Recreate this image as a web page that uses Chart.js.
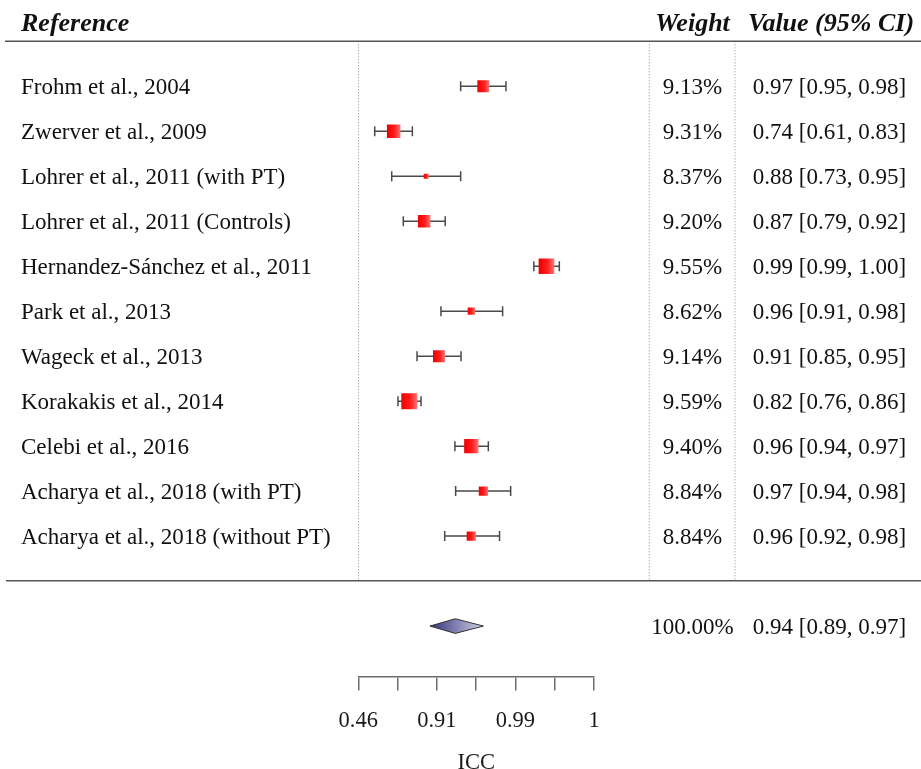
<!DOCTYPE html>
<html><head><meta charset="utf-8">
<script src="https://cdn.jsdelivr.net/npm/chart.js@4.4.0/dist/chart.umd.min.js"></script>
<style>html,body{margin:0;padding:0;background:#fff;overflow:hidden}canvas{display:block}</style>
</head><body>
<canvas id="c" width="921" height="769"></canvas>
<script>
// ---------- data ----------
const studies = [
  'Frohm et al., 2004',
  'Zwerver et al., 2009',
  'Lohrer et al., 2011 (with PT)',
  'Lohrer et al., 2011 (Controls)',
  'Hernandez-Sánchez et al., 2011',
  'Park et al., 2013',
  'Wageck et al., 2013',
  'Korakakis et al., 2014',
  'Celebi et al., 2016',
  'Acharya et al., 2018 (with PT)',
  'Acharya et al., 2018 (without PT)'
];
const icc      = [0.9699, 0.7398, 0.8774, 0.8713, 0.9939, 0.9594, 0.9099, 0.8175, 0.9594, 0.9700, 0.9594];
const iccLower = [0.9471, 0.6100, 0.7284, 0.7905, 0.9916, 0.9141, 0.8476, 0.7637, 0.9390, 0.9401, 0.9216];
const iccUpper = [0.9830, 0.8300, 0.9471, 0.9226, 0.9956, 0.9815, 0.9476, 0.8613, 0.9735, 0.9849, 0.9800];
const weights  = [9.13, 9.31, 8.37, 9.20, 9.55, 8.62, 9.14, 9.59, 9.40, 8.84, 8.84];
const pooledIcc = [0.9396];
const pooledLower = [0.8880];
const pooledUpper = [0.9700];
const pooledWeight = [100.00];
const tickLabels = ['0.46', '', '0.91', '', '0.99', '', '1'];
const axisTitle = 'ICC';
const headers = ['Reference', 'Weight', 'Value (95% CI)'];
// axis range on Fisher-z scale
const zMin = 0.5, zMax = 3.5, zStep = 0.5;

// ---------- style / layout constants ----------
const FONT = "'Liberation Serif','Times New Roman',Times,serif";
const ROW_FONT = 23, HEAD_FONT = 26;
const COL_WEIGHT_LINE = 649.3, COL_VALUE_LINE = 735;
const COL_WEIGHT_CENTER = 692.5, COL_VALUE_CENTER = 829.5, NAME_X = 21;
const POOLED_ROW = 12, RULE_BOTTOM = 10.99, HEADER_ROW = -1.42;
const SQ_MIN = 5, SQ_MAX = 16;
const DIAMOND_HALF = 0.163;

const z = v => Math.atanh(v);
const wMin = Math.min(...weights), wMax = Math.max(...weights);
const sideFor = w => SQ_MIN + (w - wMin) / (wMax - wMin) * (SQ_MAX - SQ_MIN);

const squareData = icc.map((v, i) => ({x: z(v), y: i}));
const whiskerData = [];
icc.forEach((v, i) => {
  whiskerData.push({x: z(iccLower[i]), y: i}, {x: z(iccUpper[i]), y: i}, {x: NaN, y: NaN});
});
const capData = [];
icc.forEach((v, i) => { capData.push({x: z(iccLower[i]), y: i}, {x: z(iccUpper[i]), y: i}); });
const diamondData = [
  {x: z(pooledLower[0]), y: POOLED_ROW},
  {x: z(pooledIcc[0]), y: POOLED_ROW - DIAMOND_HALF},
  {x: z(pooledUpper[0]), y: POOLED_ROW},
  {x: z(pooledIcc[0]), y: POOLED_ROW + DIAMOND_HALF},
  {x: z(pooledLower[0]), y: POOLED_ROW}
];

const fmt = v => v.toFixed(2);

const forestText = {
  id: 'forestText',
  beforeDatasetsDraw(chart) {
    const {ctx, scales: {x, y}, chartArea} = chart;
    ctx.save();
    const top = chartArea.top, bot = y.getPixelForValue(RULE_BOTTOM);
    ctx.strokeStyle = '#8c8c8c'; ctx.lineWidth = 1; ctx.setLineDash([1, 2]);
    [Math.round(x.getPixelForValue(zMin)) + 0.5, COL_WEIGHT_LINE, COL_VALUE_LINE].forEach(px => {
      ctx.beginPath(); ctx.moveTo(px, top); ctx.lineTo(px, bot); ctx.stroke();
    });
    ctx.setLineDash([]);
    ctx.strokeStyle = '#555'; ctx.lineWidth = 1.5;
    ctx.beginPath(); ctx.moveTo(5, top); ctx.lineTo(chart.width, top); ctx.stroke();
    ctx.beginPath(); ctx.moveTo(6, bot); ctx.lineTo(chart.width, bot); ctx.stroke();
    ctx.restore();
  },
  afterDatasetsDraw(chart) {
    const {ctx, scales: {y}} = chart;
    ctx.save();
    ctx.fillStyle = '#111';
    ctx.textBaseline = 'alphabetic';
    // header
    ctx.font = `italic bold ${HEAD_FONT}px ${FONT}`;
    const hy = y.getPixelForValue(HEADER_ROW) + HEAD_FONT * 0.335;
    ctx.textAlign = 'left'; ctx.fillText(headers[0], NAME_X, hy);
    ctx.textAlign = 'center';
    ctx.fillText(headers[1], COL_WEIGHT_CENTER, hy);
    ctx.fillText(headers[2], COL_VALUE_CENTER + 1.5, hy);
    // rows
    ctx.font = `${ROW_FONT}px ${FONT}`;
    const off = ROW_FONT * 0.331;
    studies.forEach((s, i) => {
      const py = y.getPixelForValue(i) + off;
      ctx.textAlign = 'left'; ctx.fillText(s, NAME_X, py);
      ctx.textAlign = 'center';
      ctx.fillText(weights[i].toFixed(2) + '%', COL_WEIGHT_CENTER, py);
      ctx.fillText(`${fmt(icc[i])} [${fmt(iccLower[i])}, ${fmt(iccUpper[i])}]`, COL_VALUE_CENTER, py);
    });
    const pp = y.getPixelForValue(POOLED_ROW) + off;
    ctx.textAlign = 'center';
    ctx.fillText(pooledWeight[0].toFixed(2) + '%', COL_WEIGHT_CENTER, pp);
    ctx.fillText(`${fmt(pooledIcc[0])} [${fmt(pooledLower[0])}, ${fmt(pooledUpper[0])}]`, COL_VALUE_CENTER, pp);
    ctx.restore();
  }
};

function squareGradient(c) {
  if (c.type !== 'data' || !c.chart.chartArea) return '#f00';
  const i = c.dataIndex;
  const px = c.chart.scales.x.getPixelForValue(z(icc[i]));
  const s = sideFor(weights[i]);
  const g = c.chart.ctx.createLinearGradient(px - s / 2, 0, px + s / 2, 0);
  g.addColorStop(0, '#ee0000');
  g.addColorStop(0.55, '#ff1c1c');
  g.addColorStop(1, '#ff7474');
  return g;
}
function diamondGradient(c) {
  if (!c.chart.chartArea) return '#6a6aa8';
  const xs = c.chart.scales.x;
  const g = c.chart.ctx.createLinearGradient(xs.getPixelForValue(z(pooledLower[0])), 0, xs.getPixelForValue(z(pooledUpper[0])), 0);
  g.addColorStop(0, '#35357a');
  g.addColorStop(1, '#d0d0e8');
  return g;
}

new Chart(document.getElementById('c'), {
  type: 'scatter',
  data: {
    datasets: [
      {
        label: 'squares', data: squareData, order: 0,
        pointStyle: 'rect',
        pointRadius: c => sideFor(weights[c.dataIndex]) / Math.SQRT2,
        pointHoverRadius: c => sideFor(weights[c.dataIndex]) / Math.SQRT2,
        backgroundColor: squareGradient, borderWidth: 0, borderColor: 'rgba(0,0,0,0)'
      },
      {
        label: 'caps', data: capData, order: 1,
        pointStyle: 'line', rotation: 90, pointRadius: 5,
        borderColor: '#4a4a4a', pointBorderColor: '#4a4a4a', pointBorderWidth: 1.5
      },
      {
        label: 'whiskers', data: whiskerData, order: 2,
        showLine: true, spanGaps: false, pointRadius: 0,
        borderColor: '#4a4a4a', borderWidth: 1.5
      },
      {
        label: 'pooled', data: diamondData, order: 0,
        showLine: true, pointRadius: 0, tension: 0,
        fill: 'shape', backgroundColor: diamondGradient,
        borderColor: '#333', borderWidth: 1
      }
    ]
  },
  options: {
    responsive: false, animation: false, devicePixelRatio: 1,
    layout: {padding: {left: 358.3, right: 327, top: 41.3, bottom: 0}},
    plugins: {legend: {display: false}, tooltip: {enabled: false}},
    scales: {
      x: {
        type: 'linear', position: 'bottom', min: zMin, max: zMax,
        afterBuildTicks: s => { s.ticks = tickLabels.map((t, i) => ({value: zMin + i * zStep})); },
        ticks: {
          autoSkip: false, maxRotation: 0, padding: 19.5, color: '#1a1a1a',
          font: {family: FONT, size: 22.5, lineHeight: 1},
          callback: (v, i) => tickLabels[i]
        },
        grid: {drawOnChartArea: false, drawTicks: true, tickLength: 14, color: '#6e6e6e', lineWidth: 1.5},
        border: {display: true, color: '#6e6e6e', width: 1.5},
        title: {display: true, text: axisTitle, color: '#1a1a1a',
          font: {family: FONT, size: 22.5, lineHeight: 0.5}, padding: {top: 5.8, bottom: 0}}
      },
      y: {
        type: 'linear', display: false, reverse: true, min: -1, max: 13.12
      }
    }
  },
  plugins: [forestText]
});
</script>
</body></html>
